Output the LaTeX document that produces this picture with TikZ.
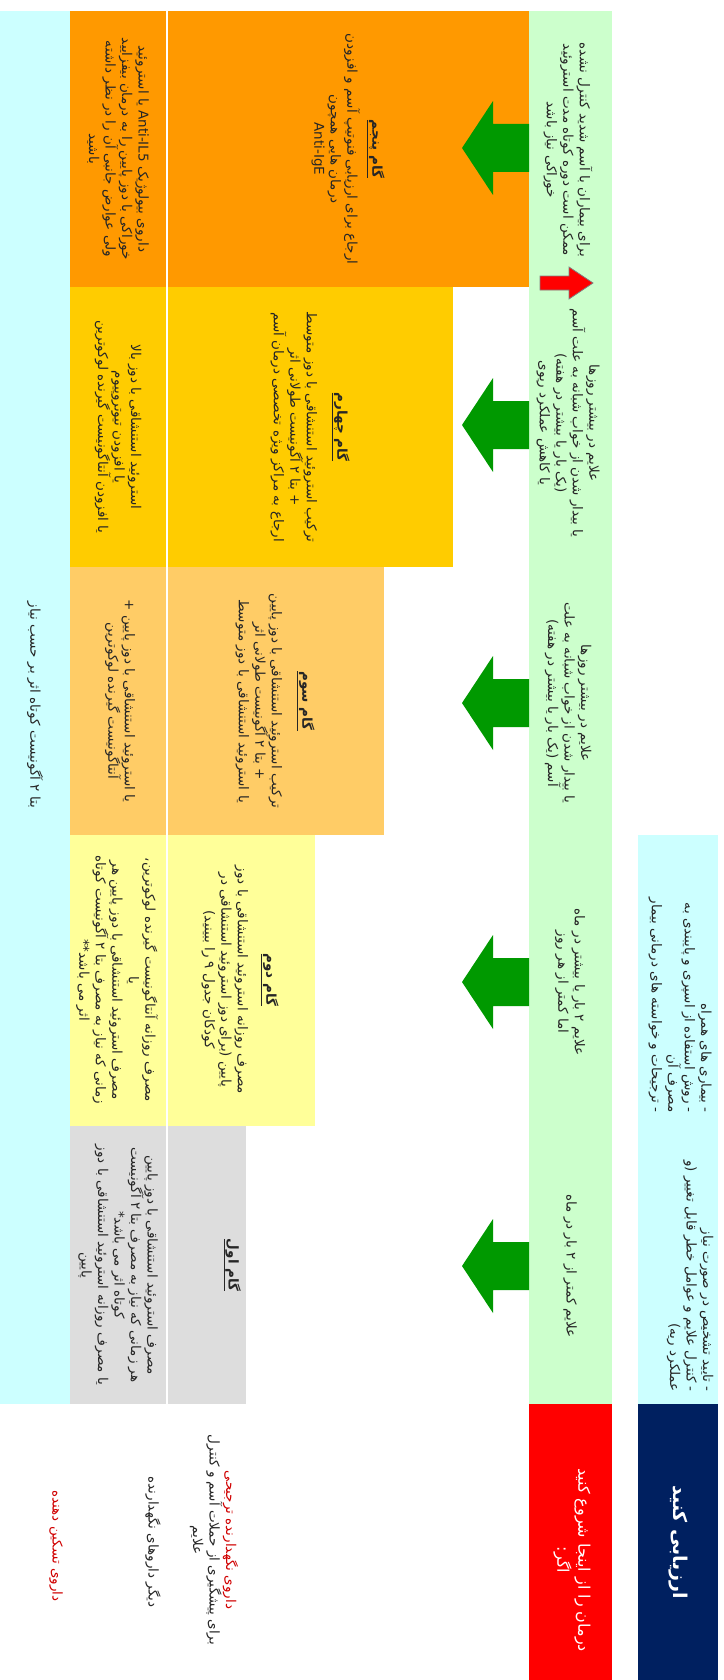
\documentclass[tikz,border=0pt]{standalone}
\usepackage{fontspec}
\newfontfamily\fa[Script=Arabic]{DejaVu Sans}
\TeXXeTstate=1
\newcommand{\rl}[1]{\beginR #1\endR}
\newcommand{\lt}[1]{\beginL #1\endL}
\newcommand{\steptitle}[1]{\underline{\textbf{\beginR #1\endR}}}
\definecolor{cyanband}{HTML}{CCFFFF}
\definecolor{greenband}{HTML}{CCFFCC}
\definecolor{stepfive}{HTML}{FF9900}
\definecolor{stepfour}{HTML}{FFCC00}
\definecolor{stepthree}{HTML}{FFCC66}
\definecolor{steptwo}{HTML}{FFFF99}
\definecolor{stepone}{HTML}{DDDDDD}
\definecolor{arrowgreen}{HTML}{009900}
\definecolor{navybox}{HTML}{002060}
\definecolor{redbox}{HTML}{FF0000}
\definecolor{legred}{HTML}{D00000}
\definecolor{txtdark}{HTML}{262626}
\begin{document}
\begin{tikzpicture}[x=1pt,y=-1pt,
  rtxt/.style={rotate=-90, font=\fa\fontsize{13.5}{16.5}\selectfont, align=center, inner sep=0pt, text=txtdark},
  bigtxt/.style={rotate=-90, font=\fa\fontsize{16}{21}\selectfont, align=center, inner sep=0pt, text=white},
  bigarrow/.style={fill=arrowgreen}
]
\useasboundingbox (0,0) rectangle (723,1680);
% bands and boxes
\fill[cyanband] (0,11) rectangle (70,1404);
\fill[stepfive] (70,11) rectangle (529,287);
\fill[stepfour] (70,287) rectangle (453,567);
\fill[stepthree] (70,567) rectangle (384,835);
\fill[steptwo] (70,835) rectangle (315,1126);
\fill[stepone] (70,1126) rectangle (246,1404);
\draw[white, line width=1.2pt] (167,11) -- (167,1404);
\fill[greenband] (529,11) rectangle (612,1404);
\fill[redbox] (529,1404) rectangle (612,1680);
\fill[cyanband] (638,835) rectangle (718,1404);
\fill[navybox] (638,1404) rectangle (718,1680);
% green arrows
\foreach \c in {148,425,703,982,1266}{
  \fill[bigarrow] (529,\c-24) -- (493,\c-24) -- (493,\c-47) -- (462,\c) -- (493,\c+47) -- (493,\c+24) -- (529,\c+24) -- cycle;
}
% small red arrow
\filldraw[fill=red, draw=gray, line width=0.8pt] (540,276) -- (569,276) -- (569,267) -- (593,283) -- (569,299) -- (569,290) -- (540,290) -- cycle;

% relief band
\node[rtxt] (relief) at (35,705) {\rl{بتا ۲ آگونیست کوتاه اثر بر حسب نیاز}};

% step 5
\node[rtxt] (s5u) at (348,149) {\steptitle{گام پنجم}\\[6pt]
\rl{ارجاع برای ارزیابی فنوتیپ آسم و افزودن}\\
\rl{درمان هایی همچون}\\
\lt{Anti-IgE}};
\node[rtxt] (s5l) at (118,149) {\rl{داروی بیولوژیک \lt{Anti-IL5} یا استروئید}\\
\rl{خوراکی با دوز پایین را به درمان بیفزایید}\\
\rl{ولی عوارض جانبی آن را در نظر داشته}\\
\rl{باشید}};
% step 4
\node[rtxt] (s4u) at (310,427) {\steptitle{گام چهارم}\\[14pt]
\rl{ترکیب استروئید استنشاقی با دوز متوسط}\\
\rl{+ بتا ۲ آگونیست طولانی اثر}\\
\rl{ارجاع به مراکز ویژه تخصصی درمان آسم}};
\node[rtxt] (s4l) at (118,427) {\rl{استروئید استنشاقی با دوز بالا}\\
\rl{یا افزودن تیوتروپیوم}\\
\rl{یا افزودن آنتاگونیست گیرنده لوکوترین}};
% step 3
\node[rtxt] (s3u) at (275,701) {\steptitle{گام سوم}\\[14pt]
\rl{ترکیب استروئید استنشاقی با دوز پایین}\\
\rl{+ بتا ۲ آگونیست طولانی اثر}\\
\rl{یا استروئید استنشاقی با دوز متوسط}};
\node[rtxt] (s3l) at (120,701) {\rl{یا استروئید استنشاقی با دوز پایین +}\\
\rl{آنتاگونیست گیرنده لوکوترین}};
% step 2
\node[rtxt] (s2u) at (240,980) {\steptitle{گام دوم}\\[12pt]
\rl{مصرف روزانه استروئید استنشاقی با دوز}\\
\rl{پایین (برای دوز استروئید استنشاقی در}\\
\rl{کودکان جدول ۹ را ببینید)}};
\node[rtxt] (s2l) at (117,980) {\rl{مصرف روزانه آنتاگونیست گیرنده لوکوترین،}\\
\rl{یا}\\
\rl{مصرف استروئید استنشاقی با دوز پایین هر}\\
\rl{زمانی که نیاز به مصرف بتا ۲ آگونیست کوتاه}\\
\rl{اثر می باشد**}};
% step 1
\node[rtxt] (s1u) at (232,1265) {\steptitle{گام اول}};
\node[rtxt] (s1l) at (118,1265) {\rl{مصرف استروئید استنشاقی با دوز پایین}\\
\rl{هر زمانی که نیاز به مصرف بتا ۲ آگونیست}\\
\rl{کوتاه اثر می باشد*}\\
\rl{یا مصرف روزانه استروئید استنشاقی با دوز}\\
\rl{پایین}};

% green band conditions
\node[rtxt] (c5) at (568,150) {\rl{برای بیماران با آسم شدید کنترل نشده}\\
\rl{ممکن است دوره کوتاه مدت استروئید}\\
\rl{خوراکی نیاز باشد}};
\node[rtxt] (c4) at (568,423) {\rl{علایم در بیشتر روزها}\\
\rl{یا بیدار شدن از خواب شبانه به علت آسم}\\
\rl{(یک بار یا بیشتر در هفته)}\\
\rl{یا کاهش عملکرد ریوی}};
\node[rtxt] (c3) at (568,703) {\rl{علایم در بیشتر روزها}\\
\rl{یا بیدار شدن از خواب شبانه به علت}\\
\rl{آسم (یک بار یا بیشتر در هفته)}};
\node[rtxt] (c2) at (570,982) {\rl{علایم ۲ بار یا بیشتر در ماه}\\
\rl{اما کمتر از هر روز}};
\node[rtxt] (c1) at (570,1266) {\rl{علایم کمتر از ۲ بار در ماه}};

% assessment box
\node[rtxt, align=right, anchor=east] (a1) at (690,1392) {\rl{- تایید تشخیص در صورت نیاز}\\
\rl{- کنترل علایم و عوامل خطر قابل تغییر (و}\\
\rl{عملکرد ریه)}};
\node[rtxt, align=right, anchor=east] (a2) at (680,1113) {\rl{- بیماری های همراه}\\
\rl{- روش استفاده از اسپری و پایبندی به}\\
\rl{مصرف آن}\\
\rl{- ترجیحات و خواسته های درمانی بیمار}};

% start / assess
\node[bigtxt] (start) at (572,1560) {\rl{درمان را از اینجا شروع کنید}\\\rl{اگر:}};
\node[bigtxt, font=\fa\bfseries\fontsize{19}{22}\selectfont] (assess) at (678,1542) {\rl{ارزیابی کنید}};

% legend
\node[rtxt] (lg1) at (214,1540) {\textcolor{legred}{\rl{داروی نگهدارنده ترجیحی}}\\
\rl{برای پیشگیری از حملات آسم و کنترل}\\
\rl{علایم}};
\node[rtxt] (lg2) at (153,1542) {\rl{دیگر داروهای نگهدارنده}};
\node[rtxt, text=legred] (lg3) at (56,1546) {\rl{داروی تسکین دهنده}};
\end{tikzpicture}
\end{document}
